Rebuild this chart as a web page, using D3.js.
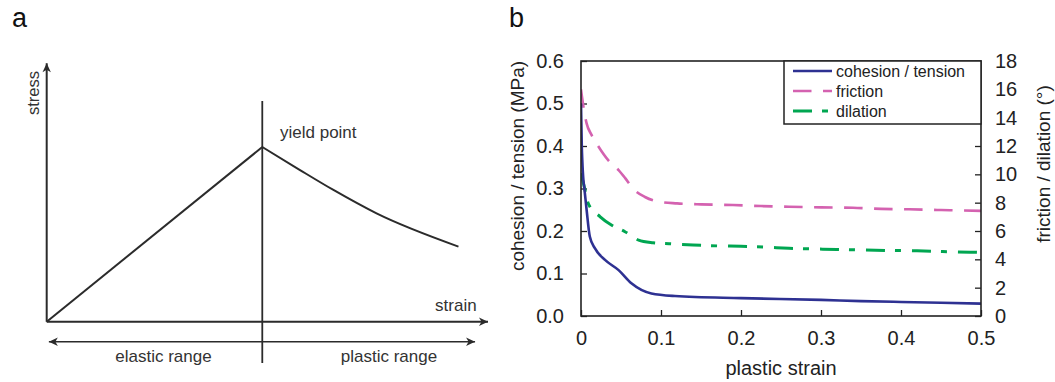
<!DOCTYPE html>
<html>
<head>
<meta charset="utf-8">
<script src="https://cdn.jsdelivr.net/npm/d3@7"></script>
<style>
  body { margin: 0; background: #fff; }
  svg { display: block; font-family: "Liberation Sans", Arial, sans-serif; }
</style>
</head>
<body>
<div id="chart"></div>
<script>
// panel a: schematic stress-strain curve (arbitrary units, yield at 1,1)
const elasticStrain = [0, 1];
const elasticStress = [0, 1];
const plasticStrain = [1, 1.175, 1.33, 1.53, 1.91];
const plasticStress = [1, 0.868, 0.754, 0.62, 0.43];

// panel b: softening laws vs plastic strain
const cohesionStrain = [0, 0.001, 0.0016, 0.003, 0.004, 0.007, 0.011, 0.0175, 0.03, 0.047, 0.063, 0.088, 0.1175, 0.2, 0.3, 0.35, 0.4, 0.5];
const cohesionValues = [0.5, 0.398, 0.367, 0.32, 0.304, 0.25, 0.187, 0.159, 0.132, 0.108, 0.077, 0.053, 0.047, 0.042, 0.038, 0.035, 0.033, 0.029];

const frictionStrain = [0, 0.003, 0.007, 0.013, 0.022, 0.034, 0.047, 0.055, 0.065, 0.08, 0.097, 0.12, 0.15, 0.19, 0.225, 0.26, 0.3, 0.34, 0.375, 0.41, 0.45, 0.5];
const frictionValues = [16.0, 14.8, 13.6, 12.8, 11.95, 11.0, 10.3, 9.75, 9.0, 8.4, 8.07, 7.95, 7.88, 7.83, 7.76, 7.71, 7.67, 7.64, 7.56, 7.53, 7.48, 7.42];

const dilationStrain = [0, 0.005, 0.009, 0.024, 0.038, 0.055, 0.072, 0.09, 0.11, 0.14, 0.17, 0.2, 0.23, 0.26, 0.32, 0.38, 0.42, 0.46, 0.5];
const dilationValues = [10.07, 8.9, 7.95, 7.0, 6.42, 5.95, 5.36, 5.17, 5.1, 5.01, 4.95, 4.92, 4.86, 4.78, 4.7, 4.63, 4.6, 4.54, 4.49];

const xTicks = [0, 0.1, 0.2, 0.3, 0.4, 0.5];
const leftTicks = [0, 0.1, 0.2, 0.3, 0.4, 0.5, 0.6];
const rightTicks = [0, 2, 4, 6, 8, 10, 12, 14, 16, 18];

const legendLabels = ['cohesion / tension', 'friction', 'dilation'];

const width = 1055, height = 382;
const ink = '#222';

const svg = d3.select('#chart').append('svg')
  .attr('width', width)
  .attr('height', height);

// ---------- panel a ----------
const grey = '#2b2b2b';
const xa = d3.scaleLinear().domain([0, 2.047]).range([46.7, 488]);
const ya = d3.scaleLinear().domain([0, 1]).range([321.7, 147]);

const defs = svg.append('defs');
defs.append('marker')
  .attr('id', 'head')
  .attr('viewBox', '-10 -5 12 10')
  .attr('refX', 0).attr('refY', 0)
  .attr('markerWidth', 12).attr('markerHeight', 10)
  .attr('markerUnits', 'userSpaceOnUse')
  .attr('orient', 'auto-start-reverse')
  .append('path')
  .attr('d', 'M0,0 L-9,-4.2 L-6.5,0 L-9,4.2 Z')
  .attr('fill', grey);

const ga = svg.append('g');

// axes with arrows
ga.append('line')
  .attr('x1', xa(0)).attr('y1', ya(0))
  .attr('x2', xa(0)).attr('y2', ya(1.48))
  .attr('stroke', grey).attr('stroke-width', 2)
  .attr('marker-end', 'url(#head)');
ga.append('line')
  .attr('x1', xa(0)).attr('y1', ya(0))
  .attr('x2', xa(2.047)).attr('y2', ya(0))
  .attr('stroke', grey).attr('stroke-width', 2)
  .attr('marker-end', 'url(#head)');

// yield divider
ga.append('line')
  .attr('x1', xa(1)).attr('y1', ya(1.263))
  .attr('x2', xa(1)).attr('y2', ya(-0.236))
  .attr('stroke', grey).attr('stroke-width', 1.8);

// range double arrow
ga.append('line')
  .attr('x1', xa(0.01)).attr('y1', ya(-0.1145))
  .attr('x2', xa(1.987)).attr('y2', ya(-0.1145))
  .attr('stroke', grey).attr('stroke-width', 1.6)
  .attr('marker-start', 'url(#head)')
  .attr('marker-end', 'url(#head)');

const lineA = d3.line()
  .x(d => xa(d[0]))
  .y(d => ya(d[1]));

ga.append('path')
  .attr('d', lineA(d3.zip(elasticStrain, elasticStress)))
  .attr('fill', 'none').attr('stroke', grey).attr('stroke-width', 2);

ga.append('path')
  .attr('d', lineA.curve(d3.curveMonotoneX)(d3.zip(plasticStrain, plasticStress)))
  .attr('fill', 'none').attr('stroke', grey).attr('stroke-width', 2);

const txtA = { 'font-size': 17, fill: '#333' };
function addText(g, x, y, s, anchor, attrs) {
  const t = g.append('text').attr('x', x).attr('y', y).attr('text-anchor', anchor).text(s);
  Object.entries(attrs).forEach(([k, v]) => t.attr(k, v));
  return t;
}
addText(ga, 280, 137.7, 'yield point', 'start', txtA);
addText(ga, 476.7, 310.7, 'strain', 'end', txtA);
addText(ga, 163.5, 361.7, 'elastic range', 'middle', txtA);
addText(ga, 389, 361.7, 'plastic range', 'middle', txtA);
addText(ga, 0, 0, 'stress', 'middle', { 'font-size': 16.5, fill: '#333', transform: 'translate(39,93) rotate(-90)' });

// panel letters
addText(svg, 12, 27, 'a', 'start', { 'font-size': 27, fill: '#111' });
addText(svg, 509, 27, 'b', 'start', { 'font-size': 27, fill: '#111' });

// ---------- panel b ----------
const pLeft = 581, pRight = 981, pTop = 61, pBottom = 316;
const x = d3.scaleLinear().domain([0, 0.5]).range([pLeft, pRight]);
const yL = d3.scaleLinear().domain([0, 0.6]).range([pBottom, pTop]);
const yR = d3.scaleLinear().domain([0, 18]).range([pBottom, pTop]);

const gb = svg.append('g');

const fmt1 = d3.format('.1f');

const axB = gb.append('g').attr('transform', `translate(0,${pBottom})`)
  .call(d3.axisBottom(x).tickValues(xTicks).tickSize(-6).tickPadding(10)
    .tickFormat(d => d === 0 ? '0' : fmt1(d)));
const axL = gb.append('g').attr('transform', `translate(${pLeft},0)`)
  .call(d3.axisLeft(yL).tickValues(leftTicks).tickSize(-6).tickPadding(17)
    .tickFormat(fmt1));
const axR = gb.append('g').attr('transform', `translate(${pRight},0)`)
  .call(d3.axisRight(yR).tickValues(rightTicks).tickSize(-6).tickPadding(14)
    .tickFormat(d3.format('d')));

[axB, axL, axR].forEach(a => {
  a.select('.domain').remove();
  a.selectAll('line').attr('stroke', ink).attr('stroke-width', 1.3);
  a.selectAll('text')
    .attr('font-family', '"Liberation Sans", Arial, sans-serif')
    .attr('font-size', 20).attr('fill', ink);
});
axB.selectAll('text').attr('dy', '0.95em');

// series
const lineL = d3.line().curve(d3.curveMonotoneX).x(d => x(d[0])).y(d => yL(d[1]));
const lineR = d3.line().curve(d3.curveMonotoneX).x(d => x(d[0])).y(d => yR(d[1]));

const series = [
  { label: legendLabels[0], color: '#2e3192', width: 2.6, dash: null,
    d: lineL(d3.zip(cohesionStrain, cohesionValues)) },
  { label: legendLabels[1], color: '#d462b0', width: 2.6, dash: '18.5,11.5',
    d: lineR(d3.zip(frictionStrain, frictionValues)) },
  { label: legendLabels[2], color: '#00a651', width: 3, dash: '19,10,6,11',
    d: lineR(d3.zip(dilationStrain, dilationValues)) }
];

const clip = defs.append('clipPath').attr('id', 'plotClip');
clip.append('rect').attr('x', pLeft).attr('y', pTop).attr('width', pRight - pLeft).attr('height', pBottom - pTop);

const plot = gb.append('g').attr('clip-path', 'url(#plotClip)');
// draw back to front: dilation, friction, cohesion
series.slice().reverse().forEach(s => {
  plot.append('path')
    .attr('d', s.d)
    .attr('fill', 'none')
    .attr('stroke', s.color)
    .attr('stroke-width', s.width)
    .attr('stroke-dasharray', s.dash);
});

// frame
gb.append('rect')
  .attr('x', pLeft).attr('y', pTop)
  .attr('width', pRight - pLeft).attr('height', pBottom - pTop)
  .attr('fill', 'none').attr('stroke', ink).attr('stroke-width', 1.6);

// legend
const lg = gb.append('g');
lg.append('rect')
  .attr('x', 784).attr('y', pTop)
  .attr('width', pRight - 784).attr('height', 63)
  .attr('fill', '#fff').attr('stroke', ink).attr('stroke-width', 1.5);
series.forEach((s, i) => {
  const yy = 71 + i * 20;
  lg.append('line')
    .attr('x1', 793).attr('x2', 832).attr('y1', yy).attr('y2', yy)
    .attr('stroke', s.color).attr('stroke-width', s.width)
    .attr('stroke-dasharray', s.dash);
  lg.append('text')
    .attr('x', 836).attr('y', yy).attr('dy', '0.35em')
    .attr('font-size', 16).attr('fill', ink)
    .text(s.label);
});

// axis titles
addText(gb, (pLeft + pRight) / 2, 375, 'plastic strain', 'middle', { 'font-size': 20, fill: ink });
addText(gb, 0, 0, 'cohesion / tension (MPa)', 'middle',
  { 'font-size': 19, fill: ink, transform: 'translate(524,166) rotate(-90)' });
addText(gb, 0, 0, 'friction / dilation (°)', 'middle',
  { 'font-size': 19, fill: ink, transform: 'translate(1050,164) rotate(-90)' });
</script>
</body>
</html>
